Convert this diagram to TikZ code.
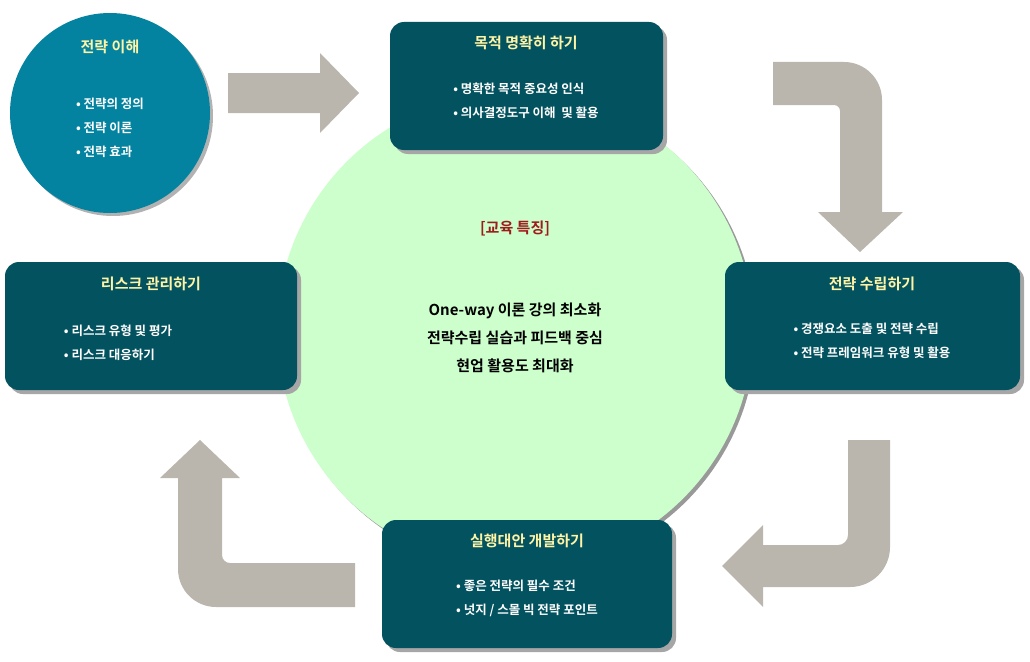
\documentclass[tikz,border=0pt]{standalone}
\usepackage{fontspec}
\setmainfont{Noto Sans CJK KR}[BoldFont={Noto Sans CJK KR Bold}]
\begin{document}
\begin{tikzpicture}[x=1pt,y=-1pt,
  box/.style={fill=boxc,rounded corners=14pt},
  shad/.style={fill=black!35,rounded corners=14pt},
  arr/.style={fill=arrc},
  ttl/.style={text=ttlc,font=\bfseries\fontsize{15}{18}\selectfont},
  itm/.style={text=white,font=\bfseries\fontsize{12.5}{24}\selectfont,align=left},
  ctr/.style={font=\bfseries\fontsize{15}{28}\selectfont,align=center}]
\definecolor{boxc}{HTML}{03525F}
\definecolor{circc}{HTML}{0383A0}
\definecolor{arrc}{HTML}{BAB5AD}
\definecolor{ttlc}{HTML}{FFF3A6}
\definecolor{grn}{HTML}{CCFFCC}
\definecolor{redc}{HTML}{9E1B1B}
\useasboundingbox (0,0) rectangle (1030,661);
% arrows
\fill[arr] (228,73) -- (320,73) -- (320,53) -- (359,93) -- (320,133) -- (320,113) -- (228,113) -- cycle;
\fill[arr] (773,62) [rounded corners=38pt] -- (882,62) [sharp corners] -- (882,212) -- (903,212) -- (860,252) -- (818,212) -- (840,212) [rounded corners=6pt] -- (840,105) [sharp corners] -- (773,105) -- cycle;
\fill[arr] (848,440) -- (890,440) [rounded corners=40pt] -- (890,587) [sharp corners] -- (763,587) -- (763,607) -- (722,566) -- (763,525) -- (763,545) [rounded corners=10pt] -- (848,545) [sharp corners] -- cycle;
\fill[arr] (355,563) -- (355,607) [rounded corners=38pt] -- (178,607) [sharp corners] -- (178,478) -- (160,478) -- (200,440) -- (240,478) -- (222,478) [rounded corners=8pt] -- (222,563) [sharp corners] -- cycle;
% big circle
\fill[black!40] (518,333) circle (238);
\fill[grn] (515,330) circle (238);
\node[ctr,text=redc] (hd) at (515,229) {[교육 특징]};
\node[ctr] (ct) at (515,338) {One-way 이론 강의 최소화\\전략수립 실습과 피드백 중심\\현업 활용도 최대화};
% left circle
\fill[black!30] (113,116) circle (100);
\fill[circc] (110,113) circle (100);
\node[ttl] (t1) at (110,47) {전략 이해};
\node[itm] (i1) at (110,128) {• 전략의 정의\\• 전략 이론\\• 전략 효과};
% boxes
\fill[shad] (394,26) rectangle (667,154);
\fill[box] (390,22) rectangle (663,150);
\node[ttl] (t2) at (526,43) {목적 명확히 하기};
\node[itm] (i2) at (526,101) {• 명확한 목적 중요성 인식\\• 의사결정도구 이해\ \ 및 활용};
\fill[shad] (729,266) rectangle (1024,394);
\fill[box] (725,262) rectangle (1020,390);
\node[ttl] (t3) at (872,284) {전략 수립하기};
\node[itm] (i3) at (872,341) {• 경쟁요소 도출 및 전략 수립\\• 전략 프레임워크 유형 및 활용};
\fill[shad] (9,266) rectangle (301,394);
\fill[box] (5,262) rectangle (297,390);
\node[ttl] (t4) at (151,284) {리스크 관리하기};
\node[itm] (i4) at (118,343) {• 리스크 유형 및 평가\\• 리스크 대응하기};
\fill[shad] (386,524) rectangle (676,652);
\fill[box] (382,520) rectangle (672,648);
\node[ttl] (t5) at (527,541) {실행대안 개발하기};
\node[itm] (i5) at (527,598) {• 좋은 전략의 필수 조건\\• 넛지 / 스몰 빅 전략 포인트};
\end{tikzpicture}
\end{document}
